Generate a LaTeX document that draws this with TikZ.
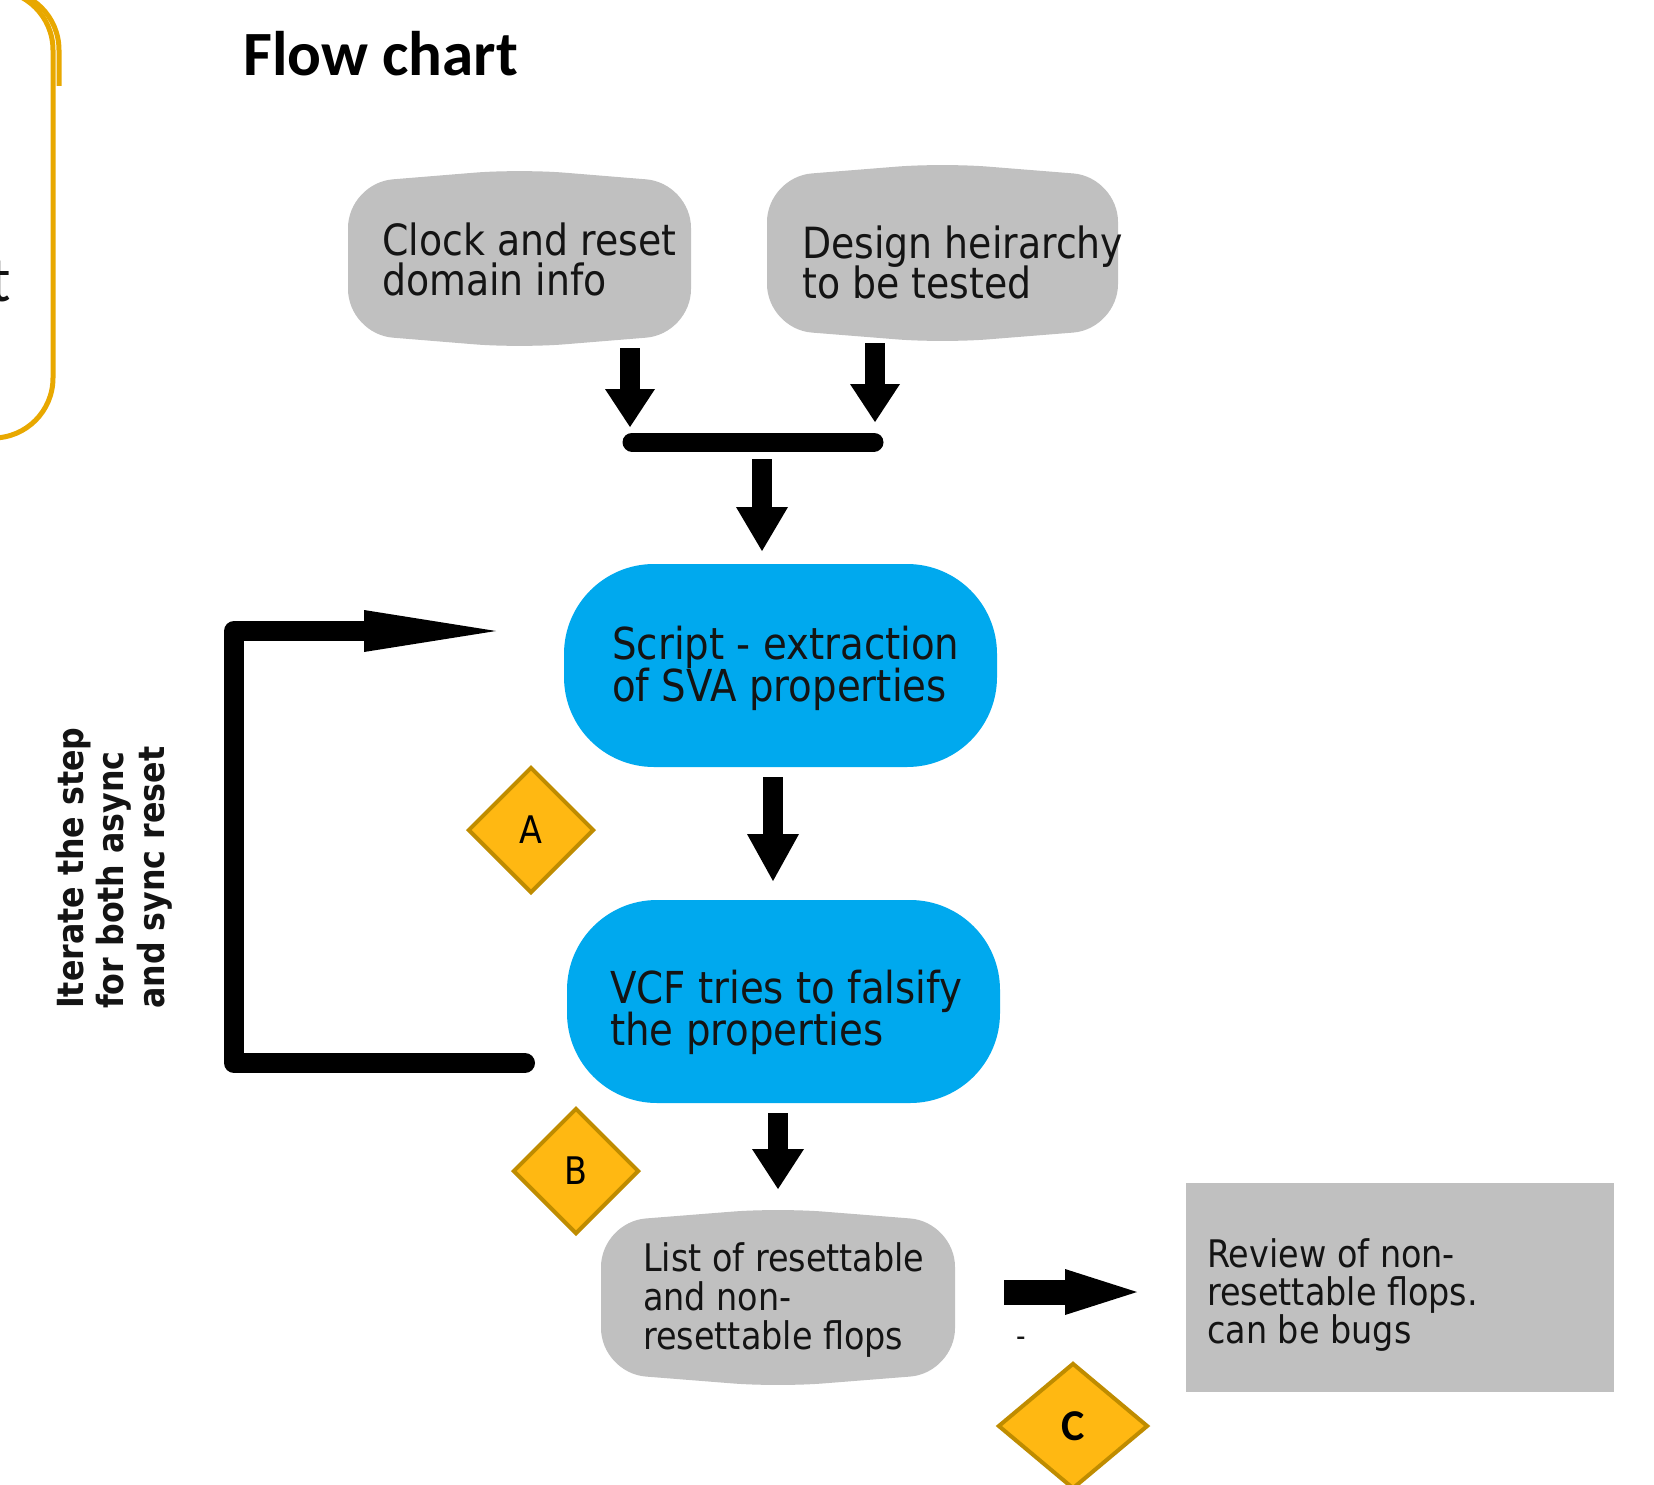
\documentclass[tikz,border=0pt]{standalone}
\usepackage{fontspec}
\newfontfamily\verdf[FakeStretch=0.88]{DejaVu Sans}
\newfontfamily\calfont{Carlito}
\usetikzlibrary{arrows.meta,shapes.geometric}
\definecolor{blobgray}{RGB}{192,192,192}
\definecolor{boxblue}{RGB}{0,169,238}
\definecolor{dfill}{RGB}{255,184,18}
\definecolor{dstroke}{RGB}{191,140,0}
\definecolor{ybox}{RGB}{232,168,0}
\definecolor{ink}{RGB}{20,20,20}
\newcommand\tightlines{\setlength{\lineskiplimit}{-100pt}}
\newcommand\blobfill[1]{\fill[blobgray, rounded corners=45pt]
  ([yshift=-14pt]#1.north west) -- (#1.north) -- ([yshift=-14pt]#1.north east) --
  ([yshift=14pt]#1.south east) -- (#1.south) -- ([yshift=14pt]#1.south west) -- cycle;}
\tikzset{
  txt/.style={inner sep=0pt, anchor=west, align=left, text=ink},
  fbig/.style={font=\verdf\fontsize{43}{40}\selectfont\tightlines},
  fblue/.style={font=\verdf\fontsize{44}{42}\selectfont\tightlines},
  fsmall/.style={font=\verdf\fontsize{38}{39}\selectfont\tightlines},
  frev/.style={font=\verdf\fontsize{38}{38.5}\selectfont\tightlines},
  fiter/.style={font=\verdf\bfseries\fontsize{36}{40.5}\selectfont\tightlines},
  shapebox/.style={inner sep=0pt, outer sep=0pt, draw=none},
  bluebox/.style={shapebox, fill=boxblue, rounded corners=90pt},
  dia/.style={diamond, fill=dfill, draw=dstroke, line width=4pt, inner sep=0pt,
    minimum width=126pt, minimum height=126pt, text=black},
  farrow/.style={line width=20pt, draw=black, -{Triangle[length=44pt,width=52pt,line width=0pt]}},
}
\begin{document}
\begin{tikzpicture}[x=1pt,y=-1pt]
\useasboundingbox (0,0) rectangle (1654,1485);
\fill[white] (0,0) rectangle (1654,1485);

% partial yellow box at the left edge
\draw[ybox, line width=5pt, rounded corners=60pt] (-300,-10) rectangle (53,438);
\begin{scope}
  \clip (-10,-20) rectangle (70,86);
  \draw[ybox, line width=5pt, rounded corners=60pt] (-300,-10) rectangle (59,300);
\end{scope}
\node[font=\calfont\fontsize{64}{64}\selectfont, anchor=base east, inner sep=0pt, text=ink] (tpart) at (11,301) {t};

% title
\node[font=\calfont\bfseries\fontsize{63}{63}\selectfont, anchor=base west, inner sep=0pt] (title) at (243,76) {Flow chart};

% inputs
\node[shapebox, minimum width=343pt, minimum height=179pt] (clk) at (519.5,258.5) {};
\blobfill{clk}
\node[txt, fbig] (clkt) at (382,259) {Clock and reset\\domain info};

\node[shapebox, minimum width=351pt, minimum height=180pt] (des) at (942.5,253) {};
\blobfill{des}
\node[txt, fbig] (dest) at (802,262) {Design heirarchy\\to be tested};

% merge arrows
\coordinate (a1s) at (630,348); \coordinate (a1e) at (630,427);
\coordinate (a2s) at (875,343); \coordinate (a2e) at (875,422);
\draw[farrow, -{Triangle[length=38pt,width=50pt,line width=0pt]}] (a1s) -- (a1e);
\draw[farrow, -{Triangle[length=38pt,width=50pt,line width=0pt]}] (a2s) -- (a2e);
\coordinate (barl) at (632,442); \coordinate (barr) at (874,442);
\draw[line width=19pt, line cap=round] (barl) -- (barr);
\coordinate (a3s) at (762,459); \coordinate (a3e) at (762,551);
\draw[farrow] (a3s) -- (a3e);

% script box
\node[bluebox, minimum width=433pt, minimum height=203pt] (scr) at (780.5,665.5) {};
\node[txt, fblue] (scrt) at (612,668) {Script - extraction\\of SVA properties};

\coordinate (a4s) at (773,777); \coordinate (a4e) at (773,881);
\draw[farrow, -{Triangle[length=47pt,width=52pt,line width=0pt]}] (a4s) -- (a4e);

% VCF box
\node[bluebox, minimum width=433pt, minimum height=203pt] (vcf) at (783.5,1001.5) {};
\node[txt, fblue] (vcft) at (610,1012) {VCF tries to falsify\\the properties};

\coordinate (a5s) at (778,1113); \coordinate (a5e) at (778,1189);
\draw[farrow, -{Triangle[length=40pt,width=52pt,line width=0pt]}] (a5s) -- (a5e);

% list of flops
\node[shapebox, minimum width=354pt, minimum height=179pt] (lst) at (778,1297.5) {};
\blobfill{lst}
\node[txt, fsmall] (lstt) at (643,1300) {List of resettable\\and non-\\resettable flops};

% arrow to review
\coordinate (a6s) at (1004,1292); \coordinate (a6e) at (1137,1292);
\draw[line width=25pt, -{Triangle[length=72pt,width=46pt,line width=0pt]}] (a6s) -- (a6e);
\node[font=\verdf\fontsize{30}{30}\selectfont, inner sep=0pt, text=ink] (dash) at (1021,1342) {-};

% review box
\node[shapebox, fill=blobgray, minimum width=428pt, minimum height=209pt] (rev) at (1400,1287.5) {};
\node[txt, frev] (revt) at (1207,1295) {Review of non-\\resettable flops.\\can be bugs};

% loop
\coordinate (lpb) at (525,1063); \coordinate (lpbl) at (234,1063);
\coordinate (lptl) at (234,631); \coordinate (lpt) at (496,631);
\draw[line width=20pt, line cap=round, line join=round,
  -{Triangle[length=132pt,width=42pt,line width=0pt]}] (lpb) -- (lpbl) -- (lptl) -- (lpt);
\node[txt, fiter, rotate=90] (iter) at (114,1009)
  {Iterate the step\\for both async\\and sync reset};

% markers
\node[dia, font=\verdf\fontsize{38}{38}\selectfont] (da) at (531,830) {A};
\node[dia, font=\verdf\fontsize{38}{38}\selectfont] (db) at (576,1171) {B};
\node[dia, minimum width=150pt, font=\calfont\bfseries\fontsize{44}{44}\selectfont] (dc) at (1073,1426) {C};
\end{tikzpicture}
\end{document}
